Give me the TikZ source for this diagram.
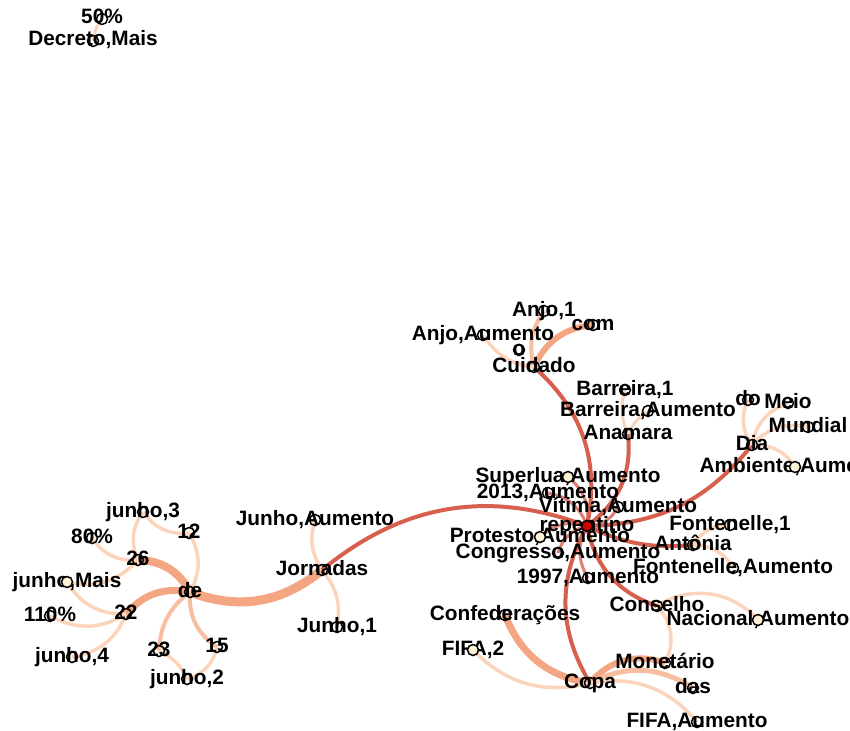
\documentclass[tikz,border=0pt]{standalone}
\usepackage{fontspec}
\setmainfont{Liberation Sans}
\usetikzlibrary{backgrounds}
\definecolor{redE}{RGB}{214,96,77}
\definecolor{peachE}{RGB}{244,165,130}
\definecolor{midE}{RGB}{248,190,160}
\definecolor{lightE}{RGB}{252,212,187}
\definecolor{paleF}{RGB}{255,244,214}
\definecolor{hubF}{RGB}{204,0,0}
\tikzset{
  nd/.style={circle, draw=black, line width=1.5pt, minimum size=11pt, inner sep=0pt},
  lbl/.style={font=\fontsize{20.8}{22}\selectfont\bfseries, anchor=base, inner sep=0pt, text=black},
  eR/.style={draw=redE, line width=4pt},
  eRs/.style={draw=redE, line width=3pt, draw opacity=0.8},
  eP/.style={draw=peachE},
  eM/.style={draw=midE, line width=4pt},
  eL/.style={draw=lightE, line width=3.5pt},
}
\newcommand\NN[5][]{\node[lbl] (#2-l) at (#3,#4+5) {#5}; \node[nd,#1] (#2) at (#3,#4) {};}
\begin{document}
\begin{tikzpicture}[x=1pt,y=-1pt]
\useasboundingbox (0,0) rectangle (850,730);
\clip (0,0) rectangle (850,730);
% nodes
\NN{A50}{102}{19}{50\%}
\NN{Dec}{93}{41}{Decreto,Mais}
\NN{de}{190}{592}{de}
\NN{n26}{138}{560}{26}
\NN{n12}{189}{533}{12}
\NN{j3}{143}{512}{junho,3}
\NN{p80}{92}{538}{80\%}
\NN[fill=paleF]{jM}{67}{582}{junho,Mais}
\NN{n22}{126}{614}{22}
\NN{p110}{50}{616}{110\%}
\NN{j4}{72}{657}{junho,4}
\NN{n23}{159}{651}{23}
\NN{n15}{217}{647}{15}
\NN{j2}{187}{679}{junho,2}
\NN{Jor}{322}{570}{Jornadas}
\NN{JA}{315}{520}{Junho,Aumento}
\NN{J1}{337}{627}{Junho,1}
\NN[fill=hubF]{rep}{587}{526}{repentino}
\NN{Cui}{534}{367}{Cuidado}
\NN{A1}{544}{311}{Anjo,1}
\NN{com}{593}{325}{com}
\NN{AA}{483}{335}{Anjo,Aumento}
\NN{o}{519}{350}{o}
\NN{B1}{625}{390}{Barreira,1}
\NN{BA}{648}{411}{Barreira,Aumento}
\NN{Ana}{628}{434}{Anamara}
\NN[fill=paleF]{Sup}{568}{477}{Superlua,Aumento}
\NN{y13}{548}{493}{2013,Aumento}
\NN{Vit}{618}{507}{Vítima,Aumento}
\NN[fill=paleF]{Pro}{540}{537}{Protesto,Aumento}
\NN{Cong}{558}{553}{Congresso,Aumento}
\NN{y97}{588}{578}{1997,Aumento}
\NN{Dia}{752}{445}{Dia}
\NN{do}{748}{400}{do}
\NN{Meio}{788}{403}{Meio}
\NN{Mun}{808}{427}{Mundial}
\NN[fill=paleF]{Amb}{795}{467}{Ambiente,Aumento}
\NN{Ant}{693}{545}{Antônia}
\NN{F1}{730}{525}{Fontenelle,1}
\NN{FA}{733}{568}{Fontenelle,Aumento}
\NN{Cons}{657}{606}{Conselho}
\NN[fill=paleF]{NA}{758}{620}{Nacional,Aumento}
\NN{Mon}{665}{663}{Monetário}
\NN{das}{693}{688}{das}
\NN{Copa}{590}{683}{Copa}
\NN{Conf}{505}{615}{Confederações}
\NN[fill=paleF]{F2}{473}{650}{FIFA,2}
\NN{FAu}{697}{722}{FIFA,Aumento}
% edges
\begin{scope}[on background layer]
\draw[eL,line width=3pt] (A50.center) to[bend right=15] (Dec.center);
% left cluster
\draw[eP,line width=9pt] (de.center) to[bend right=30] (Jor.center);
\draw[eP,line width=8pt] (de.center) to[bend right=30] (n26.center);
\draw[eP,line width=7pt] (de.center) to[bend right=30] (n22.center);
\draw[eL] (de.center) to[bend right=30] (n12.center);
\draw[eM] (de.center) to[bend right=25] (n23.center);
\draw[eM] (de.center) to[bend right=30] (n15.center);
\draw[eL] (j3.center) to[bend right=30] (n26.center);
\draw[eL] (j3.center) to[bend right=30] (n12.center);
\draw[eL] (p80.center) to[bend right=30] (n26.center);
\draw[eL] (jM.center) to[bend right=30] (n26.center);
\draw[eL] (jM.center) to[bend right=30] (n22.center);
\draw[eL] (p110.center) to[bend right=30] (n22.center);
\draw[eL] (j4.center) to[bend right=30] (n22.center);
\draw[eL] (j2.center) to[bend right=20] (n23.center);
\draw[eL] (j2.center) to[bend right=30] (n15.center);
\draw[eL] (JA.center) to[bend right=25] (Jor.center);
\draw[eL] (J1.center) to[bend right=25] (Jor.center);
% hub
\draw[eR] (rep.center) to[bend right=30] (Jor.center);
\draw[eR] (rep.center) to[bend right=30] (Cui.center);
\draw[eR] (rep.center) to[bend right=30] (Ana.center);
\draw[eR] (rep.center) to[bend right=25] (Dia.center);
\draw[eR] (rep.center) to[bend right=15] (Ant.center);
\draw[eR] (rep.center) to[bend right=30] (Cons.center);
\draw[eR] (rep.center) to[bend right=30] (Copa.center);
\draw[eRs] (rep.center) to[bend right=30] (Sup.center);
\draw[eRs] (rep.center) to[bend right=30] (y13.center);
\draw[eRs] (rep.center) to[bend right=30] (Vit.center);
\draw[eRs] (rep.center) to[bend right=30] (Pro.center);
\draw[eRs] (rep.center) to[bend right=30] (Cong.center);
\draw[eRs] (rep.center) to[bend right=30] (y97.center);
% Cuidado
\draw[eM] (A1.center) to[bend right=25] (Cui.center);
\draw[eP,line width=6pt] (com.center) to[bend right=30] (Cui.center);
\draw[eL] (AA.center) to[bend right=25] (Cui.center);
% Anamara
\draw[eL,line width=3pt] (B1.center) to[bend right=20] (Ana.center);
\draw[eL,line width=3pt] (BA.center) to[bend right=15] (Ana.center);
% Dia
\draw[eL] (do.center) to[bend right=30] (Dia.center);
\draw[eL] (Meio.center) to[bend right=30] (Dia.center);
\draw[eL] (Mun.center) to[bend right=30] (Dia.center);
\draw[eL] (Amb.center) to[bend right=30] (Dia.center);
% Antonia
\draw[eL] (F1.center) to[bend right=30] (Ant.center);
\draw[eL] (FA.center) to[bend right=30] (Ant.center);
% Conselho
\draw[eL] (NA.center) to[bend right=40] (Cons.center);
\draw[eL] (Mon.center) to[bend right=35] (Cons.center);
% Copa
\draw[eP,line width=7pt] (Conf.center) to[bend right=30] (Copa.center);
\draw[eL] (F2.center) to[bend right=30] (Copa.center);
\draw[eP,line width=6pt] (Mon.center) to[bend right=35] (Copa.center);
\draw[eM,line width=5pt] (das.center) to[bend right=30] (Copa.center);
\draw[eL] (FAu.center) to[bend right=30] (Copa.center);
\end{scope}
\end{tikzpicture}
\end{document}
